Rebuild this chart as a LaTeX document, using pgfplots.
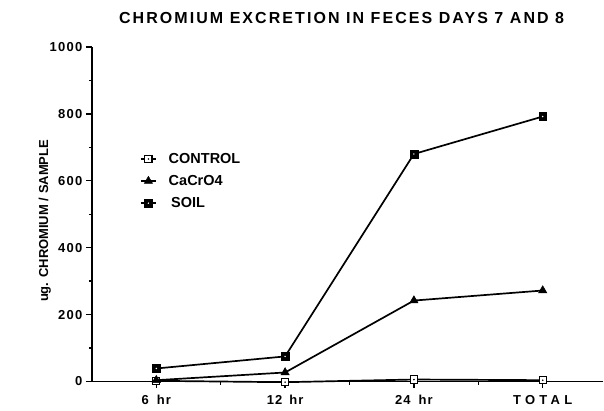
\documentclass[border=0pt]{standalone}
\usepackage{fontspec}
\setmainfont{Liberation Sans}
\usepackage{pgfplots}
\pgfplotsset{compat=1.18}
\pgfdeclareplotmark{ctrl}{%
  \pgfpathrectangle{\pgfqpoint{-\pgfplotmarksize}{-\pgfplotmarksize}}{\pgfqpoint{2\pgfplotmarksize}{2\pgfplotmarksize}}%
  \pgfsetfillcolor{white}\pgfusepathqfillstroke
  \pgfpathcircle{\pgfpointorigin}{0.9pt}\pgfsetfillcolor{black}\pgfusepathqfill}
\pgfdeclareplotmark{soil}{%
  \pgfpathrectangle{\pgfqpoint{-\pgfplotmarksize}{-\pgfplotmarksize}}{\pgfqpoint{2\pgfplotmarksize}{2\pgfplotmarksize}}%
  \pgfsetfillcolor{black}\pgfusepathqfillstroke
  \pgfpathcircle{\pgfpointorigin}{0.8pt}\pgfsetfillcolor{white}\pgfusepathqfill}
\newcommand{\tf}{\bfseries\fontsize{13}{15}\selectfont\addfontfeature{LetterSpace=10}}
\newcommand{\xf}{\bfseries\fontsize{13}{15}\selectfont\addfontfeature{LetterSpace=8}}
\begin{document}
\begin{tikzpicture}[x=1pt,y=1pt]
\path (0,0) rectangle (604,411);
\node[font=\bfseries\fontsize{16}{18}\selectfont\addfontfeature{LetterSpace=13}] at (342,393) {CHROMIUM EXCRETION IN FECES DAYS 7 AND 8};
\begin{axis}[
  at={(92pt,29pt)}, anchor=south west,
  scale only axis, width=512pt, height=335pt,
  xmin=-0.5, xmax=3.47, ymin=0, ymax=1000,
  axis x line*=bottom, axis y line*=left,
  axis line style={line width=1.5pt},
  clip=false,
  xtick={0,1,2,3},
  xticklabels={{\xf 6\hspace{8pt}hr}, {\xf 12\hspace{7pt}hr\hspace{14pt}}, {\xf 24\hspace{8pt}hr}, {\xf\addfontfeature{LetterSpace=33}TOTAL}},
  minor xtick={0.5,1.5,2.5},
  ytick={0,200,...,1000},
  yticklabels={{\tf 0},{\tf 200},{\tf 400},{\tf 600},{\tf 800},{\tf 1000}},
  minor ytick={100,300,...,900},
  tick align=outside,
  major tick length=6pt, minor tick length=3pt,
  every tick/.style={line width=1.3pt, black},
  xticklabel style={yshift=-4pt},
  ylabel={ug. CHROMIUM / SAMPLE},
  ylabel style={at={(axis description cs:-0.092,0.48)}, anchor=center, font=\bfseries\fontsize{13}{15}\selectfont},
  legend style={draw=none, fill=none, at={(axis description cs:0.088,0.695)}, anchor=north west,
    font=\bfseries\fontsize{14.5}{16}\selectfont, row sep=6.5pt,
    /tikz/every odd column/.style={column sep=10pt}},
  legend cell align=left,
  legend image code/.code={\draw[mark repeat=2,mark phase=2] plot coordinates {(0pt,0pt) (7.5pt,0pt) (15pt,0pt)};},
  every axis plot/.append style={line width=1.7pt, black},
]
\addplot[mark=ctrl, mark size=3.6pt, mark options={line width=1.1pt}] coordinates {(0,2) (1,-2) (2,6) (3,4)};
\addlegendentry{CONTROL}
\addplot[mark=triangle*, mark size=4.8pt, mark options={line width=0.5pt}] coordinates {(0,4) (1,27) (2,242) (3,272)};
\addlegendentry{CaCrO4}
\addplot[mark=soil, mark size=3.9pt, mark options={line width=0.5pt}] coordinates {(0,39) (1,75) (2,680) (3,792)};
\addlegendentry{\,SOIL}
\end{axis}
\end{tikzpicture}
\end{document}
